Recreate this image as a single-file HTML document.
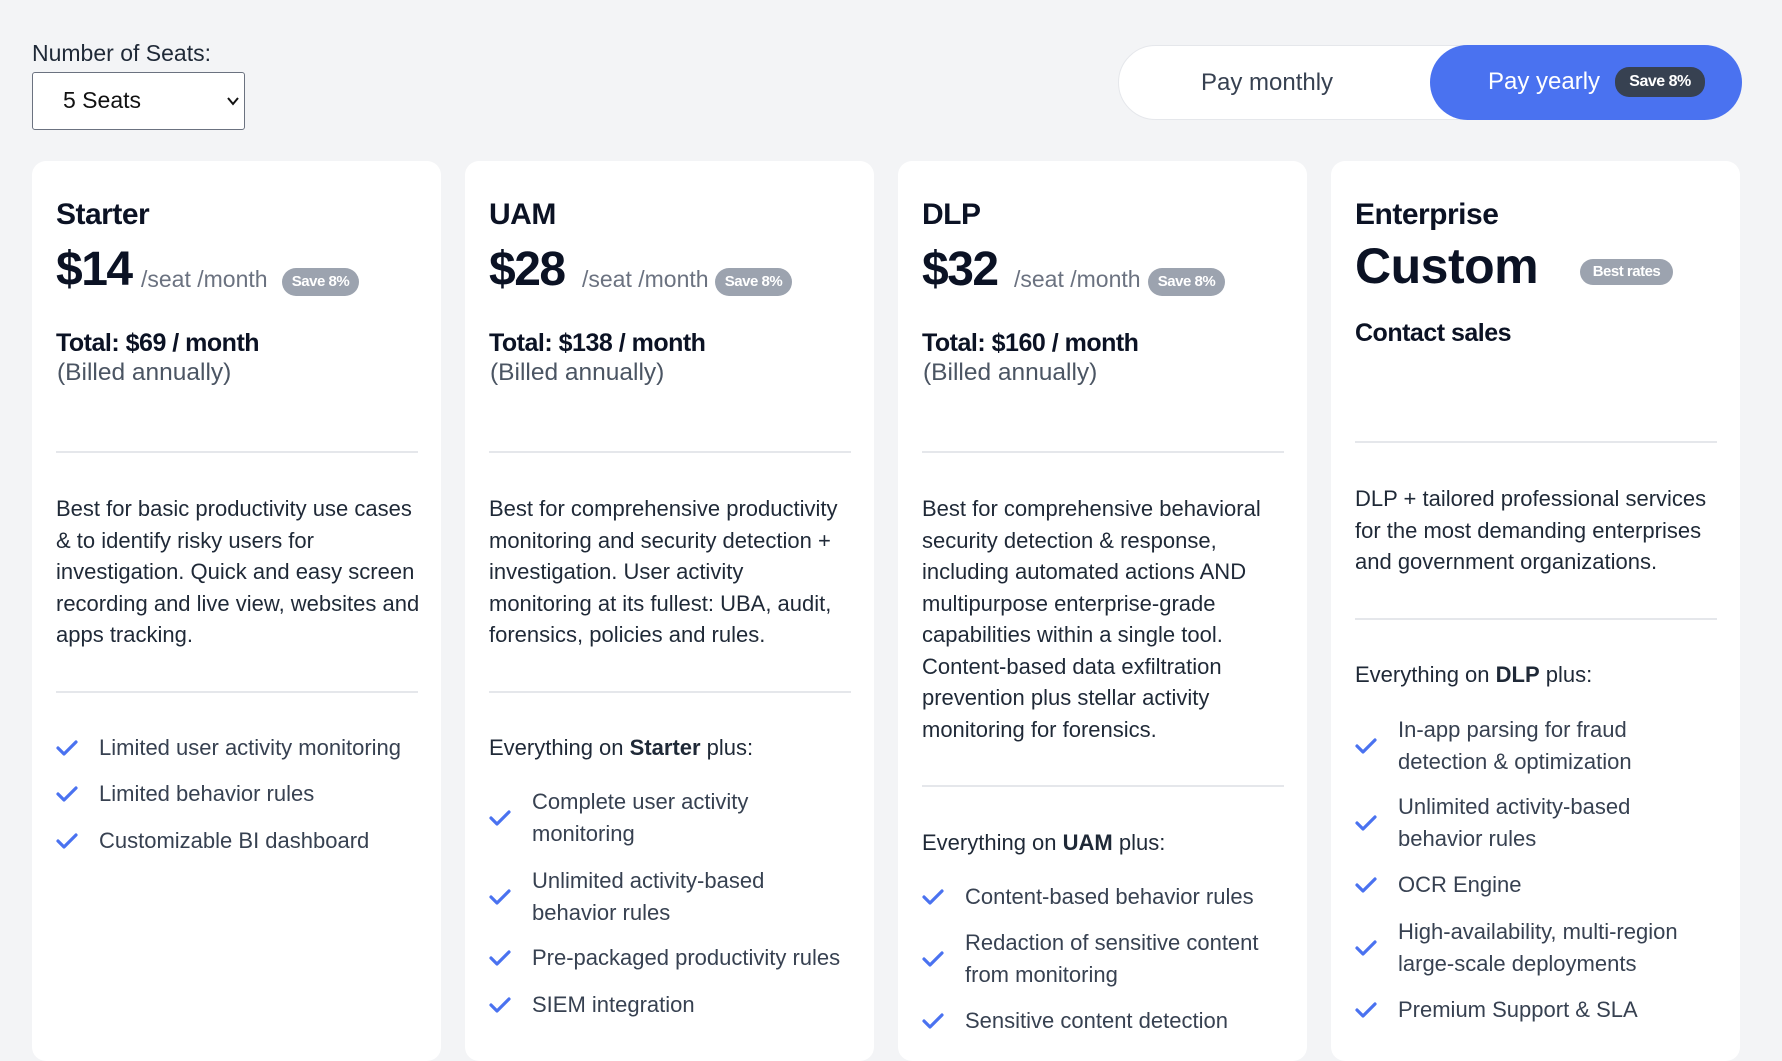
<!DOCTYPE html>
<html><head><meta charset="utf-8">
<style>
*{box-sizing:border-box;margin:0;padding:0}
body{width:1782px;height:1038px;overflow:hidden;background:#f3f4f6;font-family:"Liberation Sans",sans-serif;color:#111827;position:relative}
.a{position:absolute;white-space:nowrap}
.card{position:absolute;top:161px;width:409px;height:900px;background:#fff;border-radius:14px}
.title{font-size:30px;font-weight:bold;letter-spacing:-0.5px;color:#0b1224;line-height:36px}
.price{font-size:48px;font-weight:bold;letter-spacing:-1.5px;color:#0b1224;line-height:56px}
.per{font-size:23px;color:#6b7280;line-height:30px}
.badge{background:#9ca3af;color:#fff;font-weight:bold;font-size:15px;border-radius:14px;text-align:center;letter-spacing:-0.5px}
.total{font-size:25px;font-weight:bold;letter-spacing:-0.5px;line-height:30px;color:#0b1224}
.billed{font-size:24.5px;color:#4b5563;line-height:30px}
.hr{height:2px;background:#e5e7eb;width:362px}
.txt{font-size:22px;line-height:32px;color:#1f2937}
.feat{font-size:22px;line-height:32px;color:#374151}
</style></head><body>
<div class="a" style="left:32px;top:40px;font-size:23px;color:#1f2937">Number of Seats:</div>
<div class="a" style="left:32px;top:72px;width:213px;height:58px;border:1px solid #6b7280;border-radius:3px;background:#fff">
<span class="a" style="left:30px;top:14px;font-size:23px;color:#111">5 Seats</span>
<svg class="a" style="left:194px;top:24px" width="12" height="9" viewBox="0 0 12 9"><path d="M1 1l5 6 5-6" fill="none" stroke="#111" stroke-width="2"/></svg>
</div>
<div class="a" style="left:1118px;top:45px;width:622px;height:75px;background:#fff;border:1px solid #e5e7eb;border-radius:38px">
<span class="a" style="left:82px;top:23px;font-size:24px;color:#374151">Pay monthly</span>
<div class="a" style="left:311px;top:-1px;width:312px;height:75px;background:#4a72f0;border-radius:38px">
<span class="a" style="left:58px;top:23px;font-size:24px;color:#fff">Pay yearly</span>
<span class="a badge" style="left:185px;top:22px;width:90px;height:30px;line-height:30px;background:#374151;font-size:16px">Save 8%</span>
</div></div>

<div class="card" style="left:32px"></div>
<div class="card" style="left:465px"></div>
<div class="card" style="left:898px"></div>
<div class="card" style="left:1331px"></div>

<div id="content"></div>
<script>
const cols=[56,489,922,1355];
const plans=[
 {name:'Starter',price:'$14',total:'Total: $69 / month'},
 {name:'UAM',price:'$28',total:'Total: $138 / month'},
 {name:'DLP',price:'$32',total:'Total: $160 / month'}];
const root=document.getElementById('content');
function el(cls,x,y,html){const d=document.createElement('div');d.className='a '+cls;d.style.left=x+'px';d.style.top=y+'px';d.innerHTML=html;root.appendChild(d);return d;}
plans.forEach((p,i)=>{
 const x=cols[i];
 let d=el('title',x,197,p.name);
 
 
 d=el('price',x,242,p.price);
 
 
 const pw=[85,93,92][i];
 d=el('per',x+pw,264,'/seat /month');
 
 
 d=el('badge',x+226,268,'Save 8%');
 d.style.width='77px';d.style.height='28px';d.style.lineHeight='28px';
 
 
 d=el('total',x,328,p.total);
 
 
 d=el('billed',x+1,358,'(Billed annually)');
 
 
 d=el('hr',x,451,'');
 
 
});
let e=el('title',1355,197,'Enterprise');


e=el('price',1355,238,'Custom');e.style.letterSpacing='-0.5px';e.style.fontSize='50px';


e=el('badge',1580,259,'Best rates');e.style.width='93px';e.style.height='26px';e.style.lineHeight='26px';


e=el('total',1355,318,'Contact sales');


e=el('hr',1355,441,'');



function lines(x,y0,arr){arr.forEach((t,j)=>{const d=el('txt',x,y0+j*31.5-16,t);
 
 });}
lines(56,509,['Best for basic productivity use cases','&amp; to identify risky users for','investigation. Quick and easy screen','recording and live view, websites and','apps tracking.']);
lines(489,509,['Best for comprehensive productivity','monitoring and security detection +','investigation. User activity','monitoring at its fullest: UBA, audit,','forensics, policies and rules.']);
lines(922,509,['Best for comprehensive behavioral','security detection &amp; response,','including automated actions AND','multipurpose enterprise-grade','capabilities within a single tool.','Content-based data exfiltration','prevention plus stellar activity','monitoring for forensics.']);
lines(1355,499,['DLP + tailored professional services','for the most demanding enterprises','and government organizations.']);
[[56,691],[489,691],[922,785],[1355,618]].forEach(([x,y])=>{const d=el('hr',x,y,'');
 
 });
[[489,748,'Starter'],[922,843,'UAM'],[1355,675,'DLP']].forEach(([x,y,n])=>{const d=el('txt',x,y-16,'Everything on <b>'+n+'</b> plus:');
 
 });
const chk='<svg width="22" height="16" viewBox="0 0 22 16"><path d="M2 8l6 6L20 2" fill="none" stroke="#4a72f0" stroke-width="3.2" stroke-linecap="round" stroke-linejoin="round"/></svg>';
function feat(x,y,ls){ls.forEach((t,j)=>{const d=el('feat',x+43,y+j*32-16,t);
 
 });
 const c=el('',x,y+(ls.length-1)*16-8,chk);
 
 }
feat(56,748,['Limited user activity monitoring']);
feat(56,794,['Limited behavior rules']);
feat(56,841,['Customizable BI dashboard']);
feat(489,802,['Complete user activity','monitoring']);
feat(489,881,['Unlimited activity-based','behavior rules']);
feat(489,958,['Pre-packaged productivity rules']);
feat(489,1005,['SIEM integration']);
feat(922,897,['Content-based behavior rules']);
feat(922,943,['Redaction of sensitive content','from monitoring']);
feat(922,1021,['Sensitive content detection']);
feat(1355,730,['In-app parsing for fraud','detection &amp; optimization']);
feat(1355,807,['Unlimited activity-based','behavior rules']);
feat(1355,885,['OCR Engine']);
feat(1355,932,['High-availability, multi-region','large-scale deployments']);
feat(1355,1010,['Premium Support &amp; SLA']);
</script>
</body></html>
